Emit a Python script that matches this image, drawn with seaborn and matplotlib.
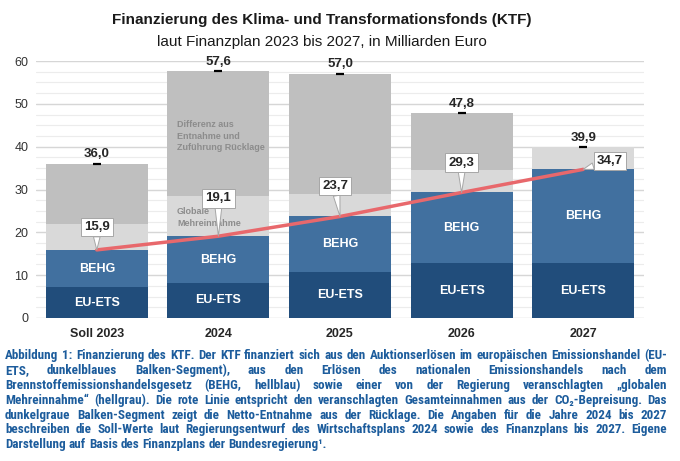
import numpy as np
import pandas as pd
import matplotlib
matplotlib.use("Agg")
import matplotlib.pyplot as plt
import seaborn as sns
from matplotlib import font_manager

# values in Mrd. Euro
years = ["Soll 2023", "2024", "2025", "2026", "2027"]
eu_ets = [7.2, 8.2, 10.7, 12.8, 12.8]
co2_total = [15.9, 19.1, 23.7, 29.3, 34.7]      # EU-ETS + BEHG (red line)
mehr_top = [21.9, 28.5, 29.0, 34.6, 39.9]       # + globale Mehreinnahme
totals = [36.0, 57.6, 57.0, 47.8, 39.9]         # + Ruecklage

co2_labels = ["15,9", "19,1", "23,7", "29,3", "34,7"]
total_labels = ["36,0", "57,6", "57,0", "47,8", "39,9"]

caption_lines = [
    "Abbildung 1: Finanzierung des KTF. Der KTF finanziert sich aus den Auktionserlösen im europäischen Emissionshandel (EU-",
    "ETS, dunkelblaues Balken-Segment), aus den Erlösen des nationalen Emissionshandels nach dem",
    "Brennstoffemissionshandelsgesetz (BEHG, hellblau) sowie einer von der Regierung veranschlagten „globalen",
    "Mehreinnahme“ (hellgrau). Die rote Linie entspricht den veranschlagten Gesamteinnahmen aus der CO₂-Bepreisung. Das",
    "dunkelgraue Balken-Segment zeigt die Netto-Entnahme aus der Rücklage. Die Angaben für die Jahre 2024 bis 2027",
    "beschreiben die Soll-Werte laut Regierungsentwurf des Wirtschaftsplans 2024 sowie des Finanzplans bis 2027. Eigene",
    "Darstellung auf Basis des Finanzplans der Bundesregierung¹.",
]

col_ets = "#214d7b"
col_behg = "#41709f"
col_light = "#d9d9d9"
col_dark = "#bfbfbf"
col_red = "#e8686c"
col_caption = "#1c5c9c"

sns.set_theme(style="white")
plt.rcParams["font.family"] = ["Liberation Sans", "DejaVu Sans"]

W, H = 680, 461
fig = plt.figure(figsize=(W / 100, H / 100), dpi=100)
ax = fig.add_axes([36 / W, 1 - 318 / H, (644 - 36) / W, (318 - 61) / H])

df = pd.DataFrame({"jahr": years, "eu_ets": eu_ets, "co2": co2_total,
                   "mehr": mehr_top, "total": totals})

# stacked bars drawn as overlapping cumulative heights
for col, color in [("total", col_dark), ("mehr", col_light),
                   ("co2", col_behg), ("eu_ets", col_ets)]:
    sns.barplot(data=df, x="jahr", y=col, color=color, width=0.84,
                saturation=1, linewidth=0, ax=ax, zorder=2)

# grid
ax.set_yticks(np.arange(0, 61, 10))
ax.set_yticks(np.arange(0, 61, 2.5), minor=True)
ax.grid(axis="y", which="major", color="#d6d6d6", lw=1)
ax.grid(axis="y", which="minor", color="#ececec", lw=0.8)
ax.set_axisbelow(True)
ax.tick_params(which="both", length=0)
ax.tick_params(axis="y", labelsize=9, labelcolor="#333333", pad=5.5)
ax.tick_params(axis="x", labelsize=9, pad=7)
for lab in ax.get_xticklabels():
    lab.set_fontweight("bold")
for s in ax.spines.values():
    s.set_visible(False)

xs = np.arange(len(years))

# segment labels
for i in xs:
    ax.text(i, eu_ets[i] / 2, "EU-ETS", ha="center", va="center",
            color="white", fontsize=9, fontweight="bold", zorder=3)
    ax.text(i, (eu_ets[i] + co2_total[i]) / 2, "BEHG", ha="center", va="center",
            color="white", fontsize=9, fontweight="bold", zorder=3)

ax.text(1 - 0.42 + 0.08, 46.2, "Differenz aus\nEntnahme und\nZuführung Rücklage",
        ha="left", va="top", color="#8c8c8c", fontsize=6.5, fontweight="bold",
        linespacing=1.35, zorder=3)
ax.text(1 - 0.42 + 0.08, 25.8, "Globale\nMehreinnahme",
        ha="left", va="top", color="#8c8c8c", fontsize=6.5, fontweight="bold",
        linespacing=1.35, zorder=3)

# red line: CO2 revenues
sns.lineplot(x=xs, y=co2_total, color=col_red, lw=2.5, ax=ax, zorder=4)

# callouts
offsets = [(0, 5.3), (0, 8.8), (-0.04, 7.1), (0, 7.0), (0.22, 2.0)]
for i in xs:
    dx, dy = offsets[i]
    ax.annotate(co2_labels[i], xy=(i, co2_total[i]), xytext=(i + dx, co2_total[i] + dy),
                ha="center", va="center", fontsize=9.5, fontweight="bold", zorder=5,
                bbox=dict(boxstyle="square,pad=0.25", fc="white", ec="#a6a6a6", lw=0.7),
                arrowprops=dict(arrowstyle="wedge,tail_width=0.5,shrink_factor=0.5",
                                fc="white", ec="#a6a6a6", lw=0.7,
                                shrinkA=0, shrinkB=0))

# totals
for i in xs:
    ax.plot(i, totals[i], marker="_", ms=6, mew=1.6, color="black", zorder=5)
    ax.text(i, totals[i] + 2.2, total_labels[i], ha="center", va="center",
            fontsize=9.5, fontweight="bold", zorder=5)

ax.set_xlim(-0.5, 4.5)
ax.set_ylim(0, 60)
ax.set_xlabel("")
ax.set_ylabel("")

# title
fig.text(322 / W, 1 - 20 / H, "Finanzierung des Klima- und Transformationsfonds (KTF)",
         ha="center", va="center", fontsize=11, fontweight="bold", color="#1a1a1a")
fig.text(322 / W, 1 - 42 / H, "laut Finanzplan 2023 bis 2027, in Milliarden Euro",
         ha="center", va="center", fontsize=11, color="#1a1a1a")

# caption font: a narrow humanist face if there is one
fonts = font_manager.fontManager.ttflist
names = {f.name for f in fonts}
cap_font = "Liberation Sans"
for cand in ["Liberation Sans Narrow", "Roboto Condensed", "Roboto", "Lato"]:
    if cand in names:
        cap_font = cand
        break
cap_weight = "bold"
cap_family = [cap_font, "DejaVu Sans"]

left_px, right_px = 5, 667
target = right_px - left_px
baselines = [359, 374, 389, 404, 418.5, 433, 448]

fig.canvas.draw()
renderer = fig.canvas.get_renderer()


def width_of(s, size):
    t = fig.text(0, 0, s, fontsize=size, fontweight=cap_weight, family=cap_family)
    w = t.get_window_extent(renderer).width
    t.remove()
    return w


fs = 9.0
natural = max(width_of(line, fs) for line in caption_lines[:-1])
fs = fs * target / natural * 0.985
space_w = width_of("x x", fs) - width_of("xx", fs)

# justified: each word is its own text, gaps spread over the line
for k, line in enumerate(caption_lines):
    words = line.split(" ")
    texts = [fig.text(0, 1 - baselines[k] / H, w_, fontsize=fs, fontweight=cap_weight,
                      family=cap_family, color=col_caption, va="baseline", ha="left")
             for w_ in words]
    widths = [t.get_window_extent(renderer).width for t in texts]
    if k < len(caption_lines) - 1 and len(words) > 1:
        gap = (target - sum(widths)) / (len(words) - 1)
    else:
        gap = space_w
    x = left_px
    for t, w_ in zip(texts, widths):
        t.set_x(x / W)
        x += w_ + gap

fig.savefig("out.png", dpi=100)
